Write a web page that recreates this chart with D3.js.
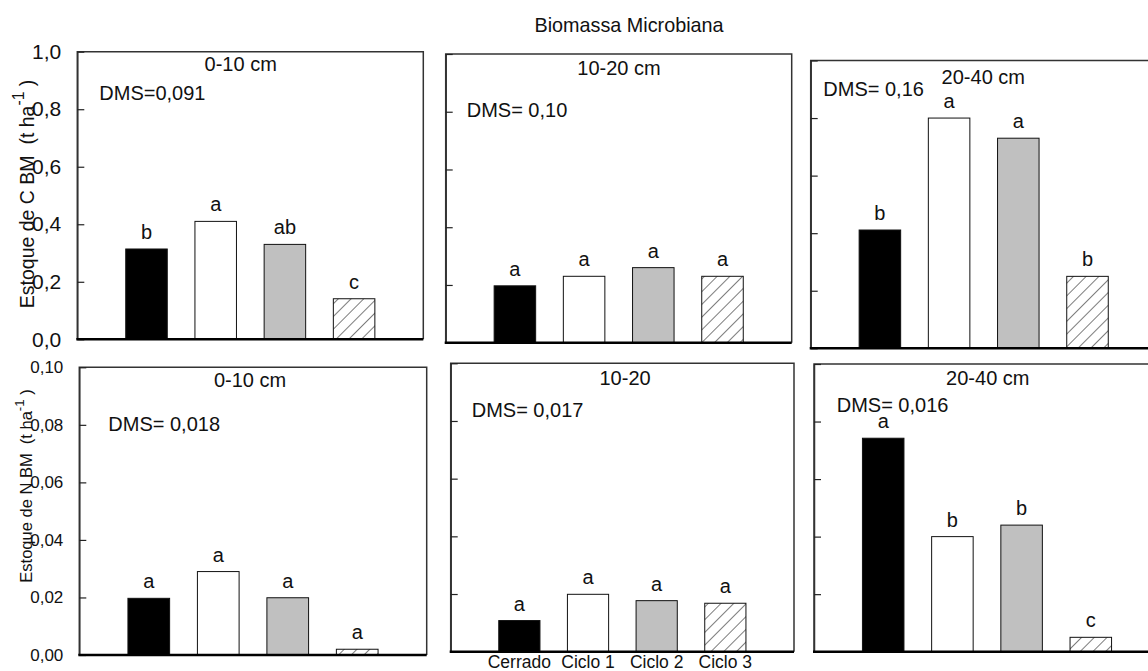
<!DOCTYPE html>
<html><head><meta charset="utf-8">
<script src="https://cdn.jsdelivr.net/npm/d3@7"></script>
<style>
body{margin:0;background:#fff;}
text{font-family:"Liberation Sans",Arial,sans-serif;fill:#111;}
</style></head>
<body>
<script>
// ---- data ----
const categories = ["Cerrado","Ciclo 1","Ciclo 2","Ciclo 3"];
const topTitles = ["0-10 cm","10-20 cm","20-40 cm"];
const bottomTitles = ["0-10 cm","10-20","20-40 cm"];
const cValues = [[0.314,0.41,0.33,0.141],[0.197,0.23,0.26,0.23],[0.411,0.80,0.73,0.25]];
const cLetters = [["b","a","ab","c"],["a","a","a","a"],["b","a","a","b"]];
const cDMS = ["DMS=0,091","DMS= 0,10","DMS= 0,16"];
const nValues = [[0.0197,0.029,0.0199,0.002],[0.0108,0.0199,0.0177,0.0168],[0.0742,0.040,0.044,0.005]];
const nLetters = [["a","a","a","a"],["a","a","a","a"],["a","b","b","c"]];
const nDMS = ["DMS= 0,018","DMS= 0,017","DMS= 0,016"];
const cTicks = [0,0.2,0.4,0.6,0.8,1.0];
const nTicks = [0,0.02,0.04,0.06,0.08,0.10];
const mainTitle = "Biomassa Microbiana";

// ---- layout ----
const W = 1148, H = 671;
const svg = d3.select("body").append("svg").attr("width",W).attr("height",H);
svg.append("rect").attr("width",W).attr("height",H).attr("fill","#fff");

const defs = svg.append("defs");
const pat = defs.append("pattern").attr("id","hatch").attr("patternUnits","userSpaceOnUse")
  .attr("width",9).attr("height",9).attr("patternTransform","rotate(45)");
pat.append("rect").attr("width",9).attr("height",9).attr("fill","#fff");
pat.append("line").attr("x1",0).attr("y1",0).attr("x2",0).attr("y2",9).attr("stroke","#111").attr("stroke-width",1.1);

const fills = ["#000","#fff","#c0c0c0","url(#hatch)"];

const panels = [
 {row:0,col:0,x0:77.3,x1:423.3,y0:51.7,y1:339.3,head:[-9.6,12.3],dms:[22,41.6]},
 {row:0,col:1,x0:445.7,x1:791.7,y0:54,y1:342.7,head:[0.3,14.3],dms:[21,56]},
 {row:0,col:2,x0:810.7,x1:1156.7,y0:60.5,y1:348.3,head:[-0.4,16.5],dms:[12.6,28]},
 {row:1,col:0,x0:79.3,x1:426.7,y0:367.3,y1:655,head:[-3,12.7],dms:[29,57]},
 {row:1,col:1,x0:450.7,x1:794,y0:363.3,y1:651.7,head:[2.7,15],dms:[21,47]},
 {row:1,col:2,x0:814,x1:1160,y0:364,y1:651.7,head:[0.8,13.7],dms:[22.7,41]}
];

const fmt = d => d3.format(".1f")(d).replace(".",",");
const fmt2 = d => d3.format(".2f")(d).replace(".",",");
const FS = 20;

panels.forEach(p=>{
  const top = p.row===0;
  const vals = top ? cValues[p.col] : nValues[p.col];
  const letters = top ? cLetters[p.col] : nLetters[p.col];
  const x = d3.scaleLinear().domain([0,5]).range([p.x0,p.x1]);
  const y = d3.scaleLinear().domain([0, top?1.0:0.10]).range([p.y1,p.y0]);
  const g = svg.append("g");
  const bw = x(0.6)-x(0);

  // bars
  g.selectAll("rect.bar").data(vals).join("rect").attr("class","bar")
    .attr("x",(d,i)=>x(i+1)-bw/2).attr("width",bw)
    .attr("y",d=>y(d)).attr("height",d=>y(0)-y(d))
    .attr("fill",(d,i)=>fills[i]).attr("stroke","#111").attr("stroke-width",1);

  // letters
  g.selectAll("text.let").data(vals).join("text").attr("class","let")
    .attr("x",(d,i)=>x(i+1)).attr("y",d=>y(d)-10)
    .attr("text-anchor","middle").attr("font-size",FS)
    .text((d,i)=>letters[i]);

  // frame
  g.append("path").attr("d",`M${p.x0},${p.y1}V${p.y0}H${p.x1}V${p.y1}`)
    .attr("fill","none").attr("stroke","#333").attr("stroke-width",1.5);
  // y axis ticks
  const ax = d3.axisLeft(y).tickValues(top?cTicks:nTicks).tickSizeInner(-7).tickSizeOuter(0).tickPadding(16)
    .tickFormat(p.col===0 ? (top?fmt:fmt2) : "");
  const ag = g.append("g").attr("transform",`translate(${p.x0},0)`).call(ax);
  ag.select(".domain").attr("stroke","#333").attr("stroke-width",1.5);
  ag.selectAll(".tick line").attr("stroke","#222").attr("stroke-width",1.2);
  ag.selectAll(".tick text").attr("font-size",top?21:17).attr("fill","#111")
    .attr("font-family","Liberation Sans, Arial, sans-serif");
  // bottom axis line
  g.append("line").attr("x1",p.x0-1).attr("x2",p.x1).attr("y1",y(0)).attr("y2",y(0))
    .attr("stroke","#000").attr("stroke-width",2.5);

  // header
  g.append("text").attr("x",(p.x0+p.x1)/2+p.head[0]).attr("y",p.y0+p.head[1]+7)
    .attr("text-anchor","middle").attr("font-size",FS)
    .text(top?topTitles[p.col]:bottomTitles[p.col]);
  // DMS
  g.append("text").attr("x",p.x0+p.dms[0]).attr("y",p.y0+p.dms[1]+7)
    .attr("font-size",FS).text(top?cDMS[p.col]:nDMS[p.col]);

  // x category labels (bottom middle)
  if(!top && p.col===1){
    g.selectAll("text.cat").data(categories).join("text").attr("class","cat")
      .attr("x",(d,i)=>x(i+1)).attr("y",668)
      .attr("text-anchor","middle").attr("font-size",17.5).text(d=>d);
  }
});

// title
svg.append("text").attr("x",629).attr("y",31.5).attr("text-anchor","middle")
  .attr("font-size",19.8).text(mainTitle);

// y labels
function ylab(cx,cy,size,txt){
  const t = svg.append("text").attr("transform",`translate(${cx},${cy}) rotate(-90)`)
    .attr("text-anchor","middle").attr("font-size",size).style("white-space","pre");
  t.append("tspan").text(txt+"  (t ha");
  t.append("tspan").attr("dy",-size*0.5).attr("font-size",size*0.8).text("-1");
  t.append("tspan").attr("dy",size*0.5).text(" )");
}
ylab(34,194,19.5,"Estoque de C BM");
ylab(32,486,16.5,"Estoque de N BM");
</script>
</body></html>
